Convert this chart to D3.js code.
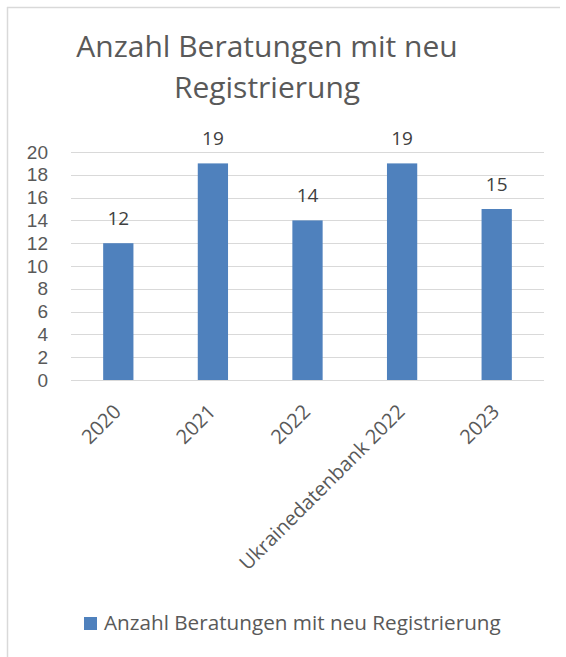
<!DOCTYPE html>
<html>
<head>
<meta charset="utf-8">
<script src="https://cdn.jsdelivr.net/npm/d3@7"></script>
<style>
  body { margin: 0; background: #fff; }
  text { font-family: "Open Sans", "Noto Sans", sans-serif; }
</style>
</head>
<body>
<div class="canvas"></div>
<script>
const categories = ["2020", "2021", "2022", "Ukrainedatenbank 2022", "2023"];
const values = [12, 19, 14, 19, 15];
const yTicks = [0, 2, 4, 6, 8, 10, 12, 14, 16, 18, 20];
const titleLines = ["Anzahl Beratungen mit neu", "Registrierung"];
const seriesName = "Anzahl Beratungen mit neu Registrierung";

const width = 566, height = 657;
const barColor = "#4f81bd";

const svg = d3.select(".canvas").append("svg")
  .attr("width", width).attr("height", height);

// chart frame (only top and left edges show in the crop)
svg.append("line").attr("x1", 7).attr("x2", 560).attr("y1", 7.5).attr("y2", 7.5)
  .attr("stroke", "#d9d9d9").attr("stroke-width", 1.5);
svg.append("line").attr("x1", 7.5).attr("x2", 7.5).attr("y1", 7).attr("y2", 657)
  .attr("stroke", "#d9d9d9").attr("stroke-width", 1.5);

// title
svg.append("g").selectAll("text").data(titleLines).enter()
  .append("text")
  .attr("x", 267).attr("y", (d, i) => 57 + i * 41)
  .attr("text-anchor", "middle")
  .attr("font-size", 30)
  .attr("fill", "#595959")
  .text(d => d);

const plot = { left: 71, right: 544, top: 152, bottom: 380 };

const x = d3.scaleBand().domain(categories)
  .range([plot.left, plot.right]).paddingInner(0.68).paddingOuter(0.34);
const y = d3.scaleLinear().domain([0, 20]).range([plot.bottom, plot.top]);

// gridlines
svg.append("g").selectAll("line").data(yTicks).enter()
  .append("line")
  .attr("x1", plot.left).attr("x2", plot.right)
  .attr("y1", d => Math.round(y(d)) + 0.5).attr("y2", d => Math.round(y(d)) + 0.5)
  .attr("stroke", "#d9d9d9").attr("stroke-width", 1.2);

// y axis labels
const yAxis = d3.axisLeft(y).tickValues(yTicks).tickSize(0).tickPadding(0);
const yg = svg.append("g").attr("transform", `translate(${plot.left - 23},0)`).call(yAxis);
yg.select(".domain").remove();
yg.selectAll("text").attr("font-size", 19).attr("fill", "#595959")
  .style("font-family", "'Liberation Sans', Arial, sans-serif");

// bars
svg.append("g").selectAll("rect").data(values).enter()
  .append("rect")
  .attr("x", (d, i) => x(categories[i]))
  .attr("width", x.bandwidth())
  .attr("y", d => y(d))
  .attr("height", d => y(0) - y(d))
  .attr("fill", barColor);

// data labels
svg.append("g").selectAll("text").data(values).enter()
  .append("text")
  .attr("x", (d, i) => x(categories[i]) + x.bandwidth() / 2)
  .attr("y", d => y(d) - 18)
  .attr("text-anchor", "middle")
  .attr("font-size", 19).attr("fill", "#404040")
  .text(d => d);

// x axis labels rotated
const xAxis = d3.axisBottom(x).tickSize(0).tickPadding(0);
const xg = svg.append("g").attr("transform", `translate(0,${plot.bottom})`).call(xAxis);
xg.select(".domain").remove();
xg.selectAll("text")
  .attr("font-size", 20).attr("fill", "#595959")
  .style("font-family", "'Open Sans', sans-serif")
  .attr("text-anchor", "end")
  .attr("y", 0)
  .attr("dy", null)
  .attr("transform", "translate(4,33) rotate(-45)");

// legend
const legend = svg.append("g").attr("transform", "translate(84,617)");
legend.append("rect").attr("width", 13).attr("height", 13).attr("fill", barColor);
legend.append("text").attr("x", 20).attr("y", 13)
  .attr("font-size", 20.7).attr("fill", "#595959")
  .text(seriesName);
</script>
</body>
</html>
